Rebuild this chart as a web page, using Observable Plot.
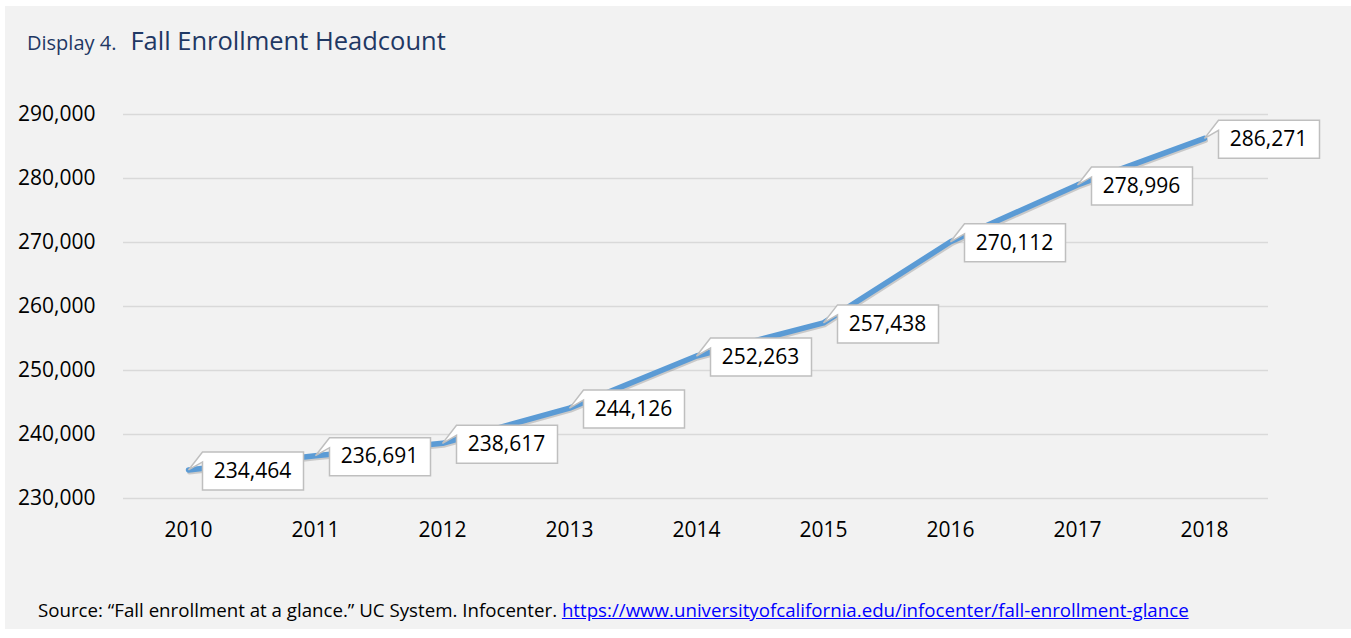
<!DOCTYPE html>
<html>
<head>
<meta charset="utf-8">
<script src="https://cdn.jsdelivr.net/npm/d3@7"></script>
<script src="https://cdn.jsdelivr.net/npm/@observablehq/plot@0.6"></script>
<style>
  html, body { margin: 0; padding: 0; background: #ffffff; }
  #wrap { position: relative; width: 1351px; height: 638px; overflow: hidden; font-family: "Open Sans", sans-serif; }
  #panel { position: absolute; left: 5px; top: 6px; width: 1346px; height: 623px; background: #f2f2f2; }
  #title { position: absolute; left: 27px; top: 23px; color: #1f3864; white-space: nowrap; }
  #title .small { font-size: 20px; }
  #title .big { font-size: 25.5px; margin-left: 14px; }
  #chart { position: absolute; left: 0; top: 70px; }
  #caption { position: absolute; left: 38px; top: 597px; font-size: 18.7px; color: #000; white-space: nowrap; }
  #caption a { color: #0000ff; text-decoration: underline; }
</style>
</head>
<body>
<div id="wrap">
  <div id="panel"></div>
  <div id="title"><span class="small">Display 4.</span><span class="big">Fall Enrollment Headcount</span></div>
  <div id="chart"></div>
  <div id="caption">Source: “Fall enrollment at a glance.” UC System. Infocenter. <a href="https://www.universityofcalifornia.edu/infocenter/fall-enrollment-glance">https://www.universityofcalifornia.edu/infocenter/fall-enrollment-glance</a></div>
</div>
<script>
const years = [2010, 2011, 2012, 2013, 2014, 2015, 2016, 2017, 2018];
const headcount = [234464, 236691, 238617, 244126, 252263, 257438, 270112, 278996, 286271];
const yTicks = [230000, 240000, 250000, 260000, 270000, 280000, 290000];

const data = years.map((year, i) => ({year: String(year), value: headcount[i]}));
const fmt = d3.format(",");

// callout shape: wedge tip at the data point, box to the right
const callout = {
  draw(context) {
    context.moveTo(14, -18);
    context.lineTo(115, -18);
    context.lineTo(115, 20);
    context.lineTo(14, 20);
    context.lineTo(14, -8);
    context.lineTo(0, 0);
    context.closePath();
  }
};

const chart = Plot.plot({
  width: 1351,
  height: 500,
  marginTop: 44,
  marginBottom: 72,
  marginLeft: 123,
  marginRight: 83,
  style: {background: "transparent", fontFamily: "'Open Sans', sans-serif", fontSize: "21px", color: "#000"},
  x: {type: "point", domain: years.map(String), padding: 0.5, label: null},
  y: {domain: [230000, 290000], label: null},
  marks: [
    Plot.gridY(yTicks, {stroke: "#d9d9d9", strokeOpacity: 1, strokeWidth: 1.5}),
    Plot.axisY(yTicks, {tickSize: 0, tickPadding: 28, tickFormat: fmt, fontSize: 21, fill: "#000"}),
    Plot.axisX({tickSize: 0, tickPadding: 24, fontSize: 21, fill: "#000"}),
    Plot.line(data, {x: "year", y: "value", stroke: "#7f7f7f", strokeOpacity: 0.35, strokeWidth: 5, dx: 1, dy: 2}),
    Plot.line(data, {x: "year", y: "value", stroke: "#5b9bd5", strokeWidth: 5.5}),
    Plot.dot(data, {x: "year", y: "value", symbol: callout, r: 10, fill: "#ffffff", stroke: "#bfbfbf", strokeWidth: 1.5}),
    Plot.text(data, {x: "year", y: "value", text: d => fmt(d.value), dx: 64, dy: 1, fontSize: 21, fill: "#000"})
  ]
});
document.getElementById("chart").appendChild(chart);
</script>
</body>
</html>
